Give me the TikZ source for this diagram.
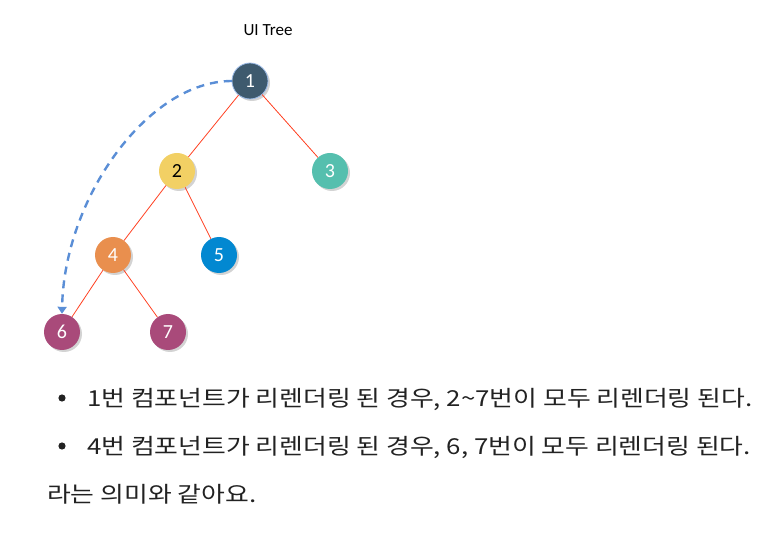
\documentclass[tikz,border=0pt]{standalone}
\usepackage{fontspec}
\setmainfont{Carlito}
\newfontfamily\krfont[FakeStretch=1.175]{Noto Sans CJK KR}
\usetikzlibrary{arrows.meta,shadows}

\definecolor{nodeA}{HTML}{3E5A6E}
\definecolor{nodeB}{HTML}{F2D064}
\definecolor{nodeC}{HTML}{55BFAE}
\definecolor{nodeD}{HTML}{E98F4E}
\definecolor{nodeE}{HTML}{0288D1}
\definecolor{nodeF}{HTML}{A94A7A}
\definecolor{edgeRed}{HTML}{FF4122}
\definecolor{arcBlue}{HTML}{5A8ED6}
\definecolor{bodyText}{HTML}{222222}

\begin{document}
\begin{tikzpicture}[x=1pt, y=-1pt,
    tnode/.style={circle, minimum size=36pt, inner sep=0pt, font=\fontsize{20}{20}\selectfont,
      drop shadow={shadow xshift=2pt, shadow yshift=-2pt, opacity=0.35}},
    edge/.style={edgeRed, line width=0.8pt},
    bodyline/.style={anchor=base west, font=\krfont\fontsize{22}{22}\selectfont, text=bodyText, inner sep=0pt}]
  \useasboundingbox (0,0) rectangle (784,534);

  % Title
  \node[font=\fontsize{17}{17}\selectfont] (title) at (268,30) {UI Tree};

  % Tree nodes
  \foreach \n/\x/\y/\c/\t in {1/250/81/nodeA/white, 2/177/171/nodeB/black, 3/330/171/nodeC/white,
      4/113/255/nodeD/white, 5/219/255/nodeE/white, 6/62/332/nodeF/white, 7/168/332/nodeF/white}
    \node[tnode, fill=\c, text=\t] (n\n) at (\x,\y) {\n};
  \draw[arcBlue!60, line width=0.8pt] (n1) circle (18pt);

  % Edges
  \foreach \a/\b in {1/2, 1/3, 2/4, 2/5, 4/6, 4/7}
    \draw[edge] (n\a) -- (n\b);

  % Re-render arc
  \draw[arcBlue, line width=2.4pt, dash pattern=on 8pt off 6pt, -{Triangle[length=7pt, width=9pt]}]
    (n1.west) .. controls (148,81) and (64,198) .. (n6.north);

  % Text lines
  \fill[bodyText] (62,398) circle (3.6pt);
  \fill[bodyText] (62,446) circle (3.6pt);
  \node[bodyline] (line1) at (87,406) {1번 컴포넌트가 리렌더링 된 경우, 2\textasciitilde7번이 모두 리렌더링 된다.};
  \node[bodyline] (line2) at (87,454) {4번 컴포넌트가 리렌더링 된 경우, 6, 7번이 모두 리렌더링 된다.};
  \node[bodyline] (line3) at (47,502) {라는 의미와 같아요.};
\end{tikzpicture}
\end{document}
